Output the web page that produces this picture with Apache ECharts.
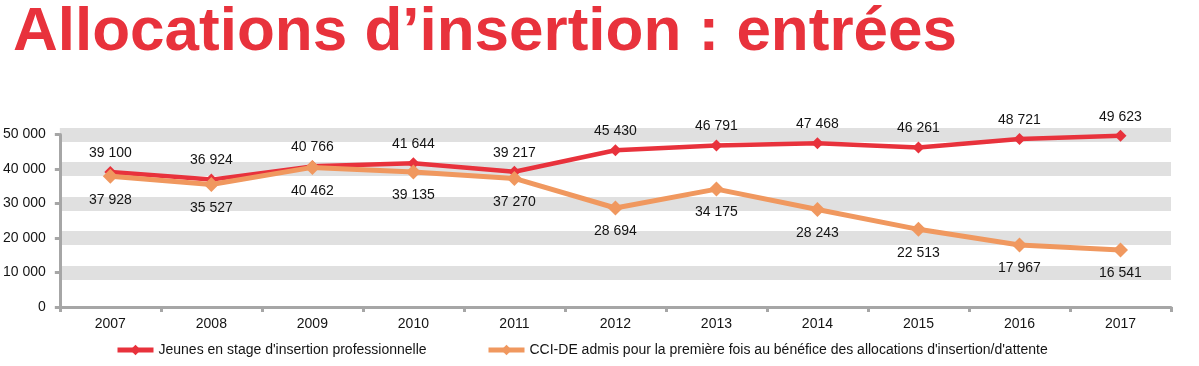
<!DOCTYPE html>
<html>
<head>
<meta charset="utf-8">
<script src="https://cdn.jsdelivr.net/npm/echarts@6/dist/echarts.min.js"></script>
<style>
html,body{margin:0;padding:0;background:#fff;}
#chart{width:1199px;height:366px;}
</style>
</head>
<body>
<div id="chart"></div>
<script>
var years = ['2007','2008','2009','2010','2011','2012','2013','2014','2015','2016','2017'];
var jeunes = [39100, 36924, 40766, 41644, 39217, 45430, 46791, 47468, 46261, 48721, 49623];
var cciDe = [37928, 35527, 40462, 39135, 37270, 28694, 34175, 28243, 22513, 17967, 16541];
var yTicks = [0, 10000, 20000, 30000, 40000, 50000];
var titleText = 'Allocations d\u2019insertion : entrées';
var nameJeunes = 'Jeunes en stage d\'insertion professionnelle';
var nameCci = 'CCI-DE admis pour la première fois au bénéfice des allocations d\'insertion/d\'attente';

function fmt(v) {
  var s = String(Math.round(v));
  return s.replace(/\B(?=(\d{3})+(?!\d))/g, ' ');
}

var FONT = "'Liberation Sans', Arial, sans-serif";
var RED = '#e8323c';
var ORANGE = '#f0985f';
var AXIS = '#a6a6a6';
var TXT = '#141414';

var chart = echarts.init(document.getElementById('chart'), null, {renderer: 'canvas'});
chart.setOption({
  backgroundColor: '#ffffff',
  animation: false,
  textStyle: {fontFamily: FONT},
  title: {
    text: titleText,
    left: 8,
    top: -3,
    textStyle: {fontFamily: FONT, fontSize: 62, fontWeight: 'bold', color: RED}
  },
  legend: [
    {
      data: [nameJeunes],
      left: 110,
      top: 338,
      itemWidth: 36,
      itemHeight: 13,
      itemGap: 0,
      lineStyle: {width: 5},
      textStyle: {fontFamily: FONT, fontSize: 14, color: TXT}
    },
    {
      data: [nameCci],
      left: 481,
      top: 338,
      itemWidth: 36,
      itemHeight: 13,
      itemGap: 0,
      lineStyle: {width: 5},
      textStyle: {fontFamily: FONT, fontSize: 14, color: TXT}
    }
  ],
  grid: {left: 59, right: 28, top: 134.5, bottom: 59, containLabel: false},
  xAxis: {
    type: 'category',
    data: years,
    boundaryGap: true,
    axisLine: {show: true, lineStyle: {color: AXIS, width: 3}},
    axisTick: {show: true, interval: 0, length: 5, lineStyle: {color: AXIS, width: 3}},
    axisLabel: {fontSize: 14, color: TXT, margin: 10, fontFamily: FONT},
    splitLine: {show: false}
  },
  yAxis: {
    type: 'value',
    min: yTicks[0],
    max: yTicks[yTicks.length - 1],
    interval: 10000,
    axisLine: {show: true, lineStyle: {color: AXIS, width: 3}},
    axisTick: {show: true, length: 5, lineStyle: {color: AXIS, width: 3}},
    axisLabel: {fontSize: 14, color: TXT, margin: 14, fontFamily: FONT, formatter: fmt},
    splitLine: {show: true, showMinLine: false, lineStyle: {color: '#e0e0e0', width: 14}}
  },
  series: [
    {
      name: nameJeunes,
      type: 'line',
      data: jeunes,
      color: RED,
      lineStyle: {width: 4.5, color: RED},
      itemStyle: {color: RED},
      symbol: 'diamond',
      symbolSize: 12,
      label: {show: true, position: 'top', distance: 6, fontSize: 14, color: TXT, fontFamily: FONT,
              formatter: function (p) { return fmt(p.value); }},
      z: 3
    },
    {
      name: nameCci,
      type: 'line',
      data: cciDe,
      color: ORANGE,
      lineStyle: {width: 5, color: ORANGE},
      itemStyle: {color: ORANGE},
      symbol: 'diamond',
      symbolSize: 15,
      label: {show: true, position: 'bottom', distance: 9, fontSize: 14, color: TXT, fontFamily: FONT,
              formatter: function (p) { return fmt(p.value); }},
      z: 4
    }
  ]
});
</script>
</body>
</html>
